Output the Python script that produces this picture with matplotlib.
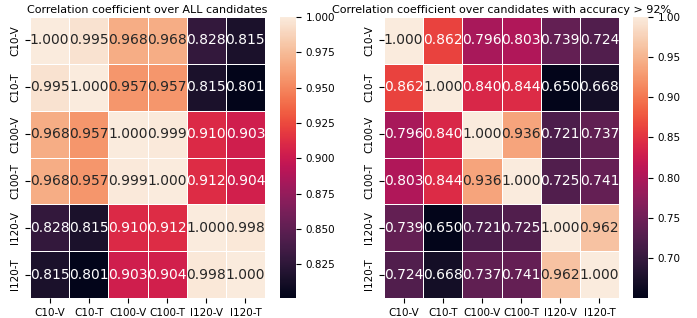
import numpy as np
import pandas as pd
import matplotlib
matplotlib.use("Agg")
import matplotlib.pyplot as plt
import seaborn as sns

labels = ["C10-V", "C10-T", "C100-V", "C100-T", "I120-V", "I120-T"]

# correlation over all candidates
corr_all = [
    [1.000, 0.995, 0.968, 0.968, 0.828, 0.815],
    [0.995, 1.000, 0.957, 0.957, 0.815, 0.801],
    [0.968, 0.957, 1.000, 0.999, 0.910, 0.903],
    [0.968, 0.957, 0.999, 1.000, 0.912, 0.904],
    [0.828, 0.815, 0.910, 0.912, 1.000, 0.998],
    [0.815, 0.801, 0.903, 0.904, 0.998, 1.000],
]

# correlation over candidates with accuracy > 92%
corr_top = [
    [1.000, 0.862, 0.796, 0.803, 0.739, 0.724],
    [0.862, 1.000, 0.840, 0.844, 0.650, 0.668],
    [0.796, 0.840, 1.000, 0.936, 0.721, 0.737],
    [0.803, 0.844, 0.936, 1.000, 0.725, 0.741],
    [0.739, 0.650, 0.721, 0.725, 1.000, 0.962],
    [0.724, 0.668, 0.737, 0.741, 0.962, 1.000],
]

titles = ["Correlation coefficient over ALL candidates",
          "Correlation coefficient over candidates with accuracy > 92%"]
cbar_ticks = [[0.825, 0.85, 0.875, 0.9, 0.925, 0.95, 0.975, 1.0],
              [0.70, 0.75, 0.80, 0.85, 0.90, 0.95, 1.00]]
cbar_fmt = ["%.3f", "%.2f"]

W, H = 697, 318
fig = plt.figure(figsize=(W / 100, H / 100), dpi=100)

def box(x0, y0, x1, y1):
    return [x0 / W, 1 - y1 / H, (x1 - x0) / W, (y1 - y0) / H]

panels = [
    (corr_all, 0, box(30, 17, 265, 298), box(280, 17, 296, 298)),
    (corr_top, 1, box(384, 17, 619, 298), box(633, 17, 648, 298)),
]

for data, i, hm_pos, cb_pos in panels:
    ax = fig.add_axes(hm_pos)
    cax = fig.add_axes(cb_pos)
    df = pd.DataFrame(data, index=labels, columns=labels)
    sns.heatmap(df, ax=ax, cbar_ax=cax, annot=True, fmt=".3f",
                linewidths=0.5, linecolor="white",
                annot_kws={"fontsize": 10},
                cbar_kws={"ticks": cbar_ticks[i], "format": cbar_fmt[i]})
    ax.set_title(titles[i], fontsize=8, pad=3)
    ax.tick_params(labelsize=7.5)
    plt.setp(ax.get_xticklabels(), rotation=0)
    plt.setp(ax.get_yticklabels(), rotation=90, va="center")
    cax.tick_params(labelsize=7.5)

fig.savefig("out.png", dpi=100)
